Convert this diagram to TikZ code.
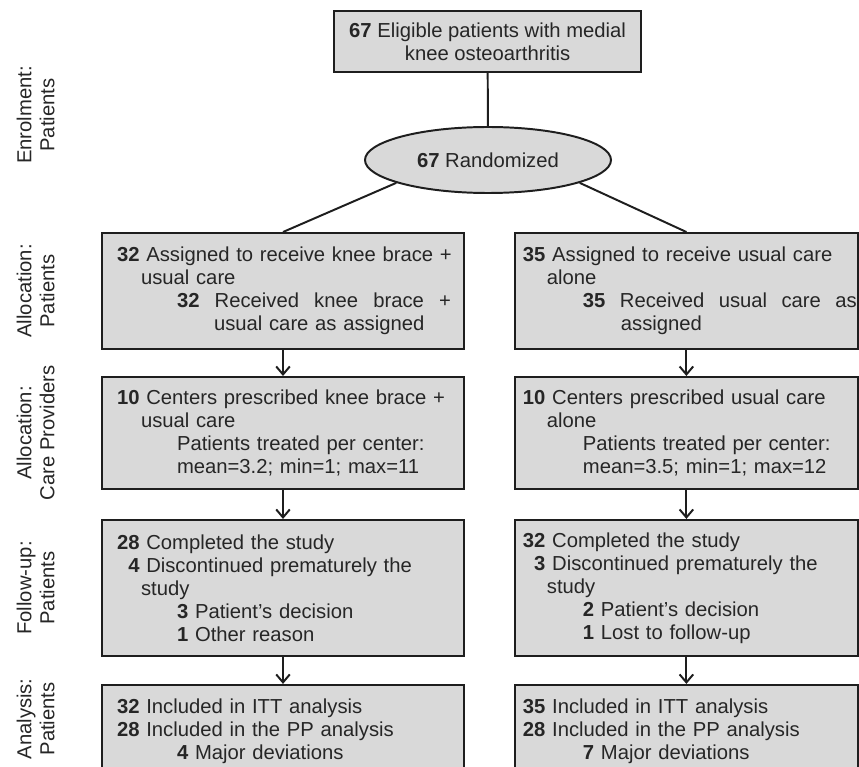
\documentclass[tikz,border=0pt]{standalone}
\usepackage{fontspec}
\setmainfont{Liberation Sans}
\usepackage{tikz}
\usetikzlibrary{shapes,arrows.meta,positioning}
\definecolor{boxgray}{RGB}{217,217,217}
\definecolor{edgegray}{RGB}{30,30,30}
\tikzstyle{Box} = [rectangle, draw=edgegray, fill=boxgray, line width=1.4pt, text=black!85, font=\fontsize{14.4}{16.4}\selectfont, inner ysep=2pt]
\tikzstyle{LeftBox} = [Box, minimum width=9.05cm, inner xsep=0.375cm, text width=8.3cm, align=left]
\tikzstyle{RightBox} = [Box, minimum width=8.575cm, inner xsep=0.2cm, text width=8.175cm, align=left]
\tikzstyle{Stage} = [rotate=90, align=center, text=black!85, font=\fontsize{14.4}{16.4}\selectfont]
\tikzstyle{link} = [line width=1.4pt, draw=edgegray]
\tikzstyle{arrow} = [link, -{Straight Barb[length=2mm,width=3.4mm,line width=1.4pt]}]

\begin{document}
\begin{tikzpicture}
\useasboundingbox (0,0) rectangle (21.475,-19.175);
\clip (0,0) rectangle (21.475,-19.175);

\node (Eligible)[Box, align=center, minimum width=7.675cm, minimum height=1.525cm] at (12.19,-1.04)
{\textbf{67} Eligible patients with medial\\knee osteoarthritis};

\node (Randomized)[ellipse, draw=edgegray, fill=boxgray, line width=1.4pt, text=black!85, font=\fontsize{14.4}{16.4}\selectfont, minimum width=6.15cm, minimum height=1.65cm, inner sep=0pt] at (12.2,-4.0)
{\textbf{67} Randomized};

% knee brace column
\node (Brace Assigned)[LeftBox, minimum height=2.9cm] at (7.075,-7.275){\mbox{\textbf{32} Assigned to receive knee brace +}\\
\hspace*{0.6cm}usual care\\
\hspace*{1.5cm}\makebox[6.85cm][s]{\textbf{32}\hfill Received\hfill knee\hfill brace\hfill +}\\
\hspace*{2.425cm}usual care as assigned};

\node (Brace Centers)[LeftBox, minimum height=2.8cm, below=0.65cm of Brace Assigned]{\mbox{\textbf{10} Centers prescribed knee brace +}\\
\hspace*{0.6cm}usual care\\
\hspace*{1.5cm}Patients treated per center:\\
\hspace*{1.5cm}mean=3.2; min=1; max=11};

\node (Brace Followup)[LeftBox, minimum height=3.4cm, below=0.725cm of Brace Centers]{\textbf{28} Completed the study\\
\phantom{\textbf{2}}\textbf{4} Discontinued prematurely the\\
\hspace*{0.6cm}study\\
\hspace*{1.5cm}\textbf{3} Patient’s decision\\
\hspace*{1.5cm}\textbf{1} Other reason};

\node (Brace Analysis)[LeftBox, minimum height=2.3cm, below=0.675cm of Brace Followup]{\textbf{32} Included in ITT analysis\\
\textbf{28} Included in the PP analysis\\
\hspace*{1.5cm}\textbf{4} Major deviations};

% usual care column
\node (Usual Assigned)[RightBox, minimum height=2.9cm] at (17.16,-7.275){\textbf{35} Assigned to receive usual care\\
\hspace*{0.6cm}alone\\
\hspace*{1.5cm}\makebox[6.85cm][s]{\textbf{35}\hfill Received\hfill usual\hfill care\hfill as}\\
\hspace*{2.45cm}assigned};

\node (Usual Centers)[RightBox, minimum height=2.8cm, below=0.65cm of Usual Assigned]{\textbf{10} Centers prescribed usual care\\
\hspace*{0.6cm}alone\\
\hspace*{1.5cm}Patients treated per center:\\
\hspace*{1.5cm}mean=3.5; min=1; max=12};

\node (Usual Followup)[RightBox, minimum height=3.4cm, below=0.725cm of Usual Centers]{\textbf{32} Completed the study\\
\phantom{\textbf{2}}\textbf{3} Discontinued prematurely the\\
\hspace*{0.6cm}study\\
\hspace*{1.5cm}\textbf{2} Patient’s decision\\
\hspace*{1.5cm}\textbf{1} Lost to follow-up};

\node (Usual Analysis)[RightBox, minimum height=2.3cm, below=0.675cm of Usual Followup]{\textbf{35} Included in ITT analysis\\
\textbf{28} Included in the PP analysis\\
\hspace*{1.5cm}\textbf{7} Major deviations};

% stage labels
\coordinate (Side Column) at (0.89,0);
\node (Enrolment)[Stage] at (0.89,-2.875){Enrolment:\\Patients};
\node (Allocation Patients)[Stage] at (Side Column |- Brace Assigned){Allocation:\\Patients};
\node (Allocation Providers)[Stage] at (Side Column |- Brace Centers){Allocation:\\Care Providers};
\node (Followup)[Stage] at (Side Column |- Brace Followup){Follow-up:\\Patients};
\node (Analysis)[yshift=0.3cm, Stage] at (Side Column |- Brace Analysis){Analysis:\\Patients};

\draw[link](Eligible)--(Randomized);
\draw[link](Randomized.194)--(Brace Assigned.north);
\draw[link](Randomized.346)--(Usual Assigned.north);

\draw[arrow](Brace Assigned)--(Brace Centers);
\draw[arrow](Brace Centers)--(Brace Followup);
\draw[arrow](Brace Followup)--(Brace Analysis);
\draw[arrow](Usual Assigned)--(Usual Centers);
\draw[arrow](Usual Centers)--(Usual Followup);
\draw[arrow](Usual Followup)--(Usual Analysis);

\end{tikzpicture}
\end{document}
